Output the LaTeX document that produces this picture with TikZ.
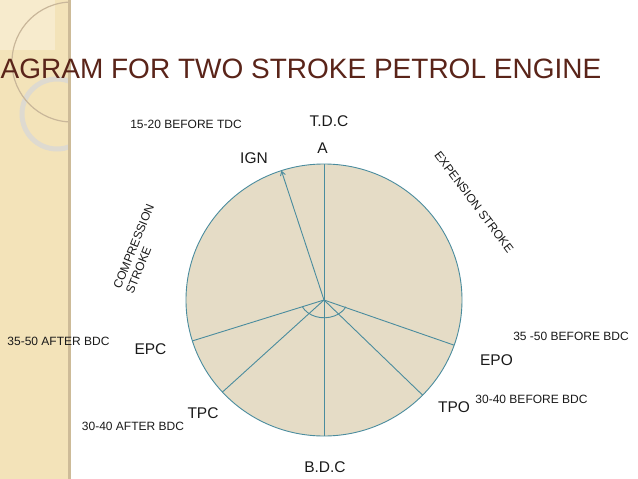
\documentclass[tikz,border=0pt]{standalone}
\usepackage{fontspec}
\setmainfont{Liberation Sans}
\usetikzlibrary{arrows.meta}
\definecolor{stripcol}{HTML}{F3E3B9}
\definecolor{striplight}{HTML}{F7EBCD}
\definecolor{stripedge}{HTML}{CDBB98}
\definecolor{ringcol}{HTML}{DEDAD0}
\definecolor{arccol}{HTML}{C9B79A}
\definecolor{diskfill}{HTML}{E5DCC6}
\definecolor{spokecol}{HTML}{4A8C9E}
\definecolor{titlecol}{HTML}{5A2419}
\definecolor{labelcol}{HTML}{1A1A1A}
\tikzset{
  small/.style={font=\fontsize{12}{13.5}\selectfont, text=labelcol, inner sep=0pt},
  big/.style={font=\fontsize{15.5}{17}\selectfont, text=labelcol, inner sep=0pt},
  spoke/.style={draw=spokecol, line width=0.9pt},
}
\begin{document}
\begin{tikzpicture}[x=1pt,y=-1pt]
\useasboundingbox (0,0) rectangle (638,479);
\fill[white] (0,0) rectangle (638,479);
% left decorative strip
\fill[stripcol] (0,0) rectangle (70,479);
\fill[striplight] (0,0) rectangle (55,50);
\begin{scope}
  \clip (0,0) rectangle (68,479);
  \draw[ringcol, line width=5pt] (57,114) circle[radius=35pt];
  \draw[arccol, line width=1.2pt] (72,62) circle[radius=60pt];
\end{scope}
\fill[stripedge] (67.5,0) rectangle (70.5,479);
% title
\node[anchor=base west, inner sep=0pt, text=titlecol,
      font=\fontsize{28}{32}\selectfont] (title) at (0.5,78)
      {AGRAM FOR TWO STROKE PETROL ENGINE};
% disc
\filldraw[fill=diskfill, draw=spokecol, line width=0.9pt]
  (324,300) ellipse[x radius=138pt, y radius=136pt];
\coordinate (O) at (324,300);
\coordinate (top) at (324,164);
\coordinate (bot) at (324,436);
\coordinate (ign) at (281.4,170.7);
\coordinate (epo) at (454.2,345.2);
\coordinate (tpo) at (422.7,395.2);
\coordinate (epc) at (192.4,340.9);
\coordinate (tpc) at (222.4,392.1);
\draw[spoke] (O) -- (top);
\draw[spoke] (O) -- (bot);
\draw[spoke] (O) -- (epo);
\draw[spoke] (O) -- (tpo);
\draw[spoke] (O) -- (epc);
\draw[spoke] (O) -- (tpc);
\draw[spoke, -{Straight Barb[length=4pt,width=5pt]}] (O) -- (ign);
\draw[spoke] (302.4,306.8) arc[start angle=205, end angle=335, x radius=24pt, y radius=19pt];
% labels
\node[small, anchor=base] (l1520) at (186,128) {15-20 BEFORE TDC};
\node[big, anchor=base] (ltdc) at (329,126) {T.D.C};
\node[big, anchor=base] (la) at (322.5,153) {A};
\node[big, anchor=base] (lign) at (254,163) {IGN};
\node[small, anchor=base] (l3550b) at (571,340) {35 -50 BEFORE BDC};
\node[big, anchor=base] (lepo) at (496.5,365) {EPO};
\node[big, anchor=base] (ltpo) at (454,412) {TPO};
\node[small, anchor=base] (l3040b) at (531.5,403) {30-40 BEFORE BDC};
\node[big, anchor=base] (lbdc) at (325,472) {B.D.C};
\node[small, anchor=base] (l3550a) at (58.5,345) {35-50 AFTER BDC};
\node[big, anchor=base] (lepc) at (150.5,354) {EPC};
\node[big, anchor=base] (ltpc) at (203,418) {TPC};
\node[small, anchor=base] (l3040a) at (133,430) {30-40 AFTER BDC};
\node[small, align=left, rotate=68] (lcomp) at (140,249) {COMPRESSION\\STROKE};
\node[small, rotate=-53] (lexp) at (474,202) {EXPENSION STROKE};
\end{tikzpicture}
\end{document}
